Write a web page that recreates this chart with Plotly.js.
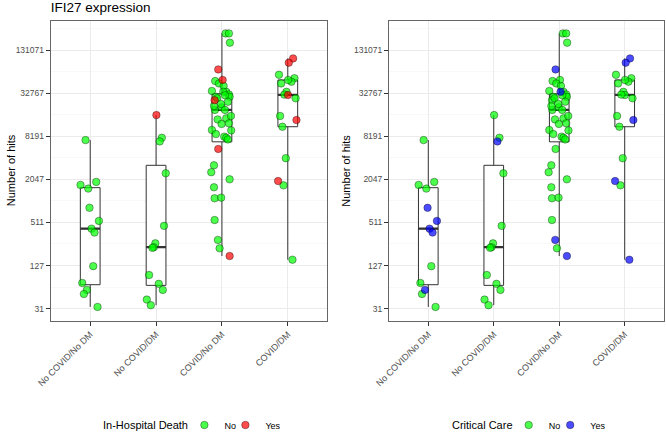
<!DOCTYPE html>
<html><head><meta charset="utf-8">
<script src="https://cdn.plot.ly/plotly-3.0.1.min.js"></script>
<style>html,body{margin:0;padding:0;background:#fff}#chart{width:666px;height:432px}</style>
</head><body><div id="chart"></div>
<script>
const categories = ["No COVID/No DM", "No COVID/DM", "COVID/No DM", "COVID/DM"];
const yTickVals = [5, 7, 9, 11, 13, 15, 17];
const yTickText = ["31", "127", "511", "2047", "8191", "32767", "131071"];
const yMinorVals = [4, 6, 8, 10, 12, 14, 16, 18];
const yTitle = "Number of hits";

// IFI27 expression, log2(hits + 1), per patient
const noCovidNoDM = [12.82, 10.74, 10.88, 10.57, 9.68, 9.07, 8.71, 8.53, 6.97, 6.19, 5.87, 5.68, 5.08];
const noCovidDM = [13.98, 12.93, 12.76, 11.28, 8.84, 8.03, 7.85, 7.82, 6.56, 6.15, 5.87, 5.42, 5.16];
const covidNoDM = [17.77, 17.77, 17.34, 16.10, 15.61, 15.56, 15.45, 15.33, 15.10, 15.06,
  14.83, 14.94, 14.67, 14.76, 14.83, 14.22, 14.34, 14.22, 13.78, 13.57,
  13.83, 13.94, 13.29, 13.27, 12.98, 12.93, 12.85, 12.41, 11.65, 11.33,
  11.00, 10.63, 10.12, 10.15, 9.11, 8.19, 7.80, 7.44,
  13.10, 13.60, 15.06, 14.50, 14.60, 14.40, 14.90];
const covidDM = [16.61, 16.41, 15.85, 15.69, 15.45, 15.53, 15.61, 15.06, 14.91, 14.93,
  14.76, 13.94, 13.75, 13.44, 11.98, 10.92, 10.72, 7.27];

// horizontal jitter of each point (category units)
const jitNoCovidNoDM = [-0.071, -0.147, 0.091, -0.030, -0.011, 0.132, 0.020, 0.065, 0.046, -0.121, -0.050, -0.096, 0.111];
const jitNoCovidDM = [0.005, 0.087, 0.056, 0.147, 0.121, -0.011, -0.035, -0.056, -0.106, 0.041, 0.102, -0.141, -0.080];
const jitCovidNoDM = [0.056, 0.106, 0.121, -0.056, 0.011, -0.102, -0.046, 0.026, -0.152, 0.065,
  -0.087, 0.106, -0.111, -0.071, 0.117, -0.106, -0.005, 0.046, -0.065, -0.005,
  0.065, 0.137, -0.152, 0.141, 0.035, 0.065, 0.091, -0.056, -0.121, -0.162,
  0.117, -0.121, -0.111, -0.011, -0.111, -0.061, -0.035, 0.117,
  -0.091, 0.106, 0.020, -0.015, 0.091, -0.121, 0.046];
const jitCovidDM = [0.081, 0.015, -0.134, 0.101, -0.101, 0.056, 0.005, -0.020, 0.003, -0.053,
  0.119, -0.117, 0.132, -0.081, -0.030, -0.147, -0.065, 0.071];

// In-Hospital Death (1 = Yes)
const deathNoCovidNoDM = [0,0,0,0,0,0,0,0,0,0,0,0,0];
const deathNoCovidDM = [1,0,0,0,0,0,0,0,0,0,0,0,0];
const deathCovidNoDM = [0,0,0,1,1,0,0,0,0,0, 0,0,1,0,0,0,0,0,0,0, 0,0,0,0,0,0,0,1,0,0, 0,0,0,0,0,0,0,1, 0,0,0,0,0,0,0];
const deathCovidDM = [1,1,0,0,0,0,0,0,1,0, 0,0,1,0,0,1,0,0];

// Critical Care (1 = Yes)
const critNoCovidNoDM = [0,0,0,0,1,1,1,1,0,0,1,0,0];
const critNoCovidDM = [0,0,1,0,0,0,0,0,0,0,0,0,0];
const critCovidNoDM = [0,0,0,1,0,0,0,0,0,0, 0,0,0,0,0,0,0,0,0,0, 0,0,0,0,0,0,0,0,0,0, 0,0,0,0,0,1,0,1, 0,0,1,0,0,0,0];
const critCovidDM = [1,1,0,0,0,0,0,0,0,0, 0,0,1,0,0,1,0,1];

const legendTitles = ["In-Hospital Death", "Critical Care"];
const legendLabels = ["No", "Yes"];

const groups = [noCovidNoDM, noCovidDM, covidNoDM, covidDM];
const jitters = [jitNoCovidNoDM, jitNoCovidDM, jitCovidNoDM, jitCovidDM];
const deaths = [deathNoCovidNoDM, deathNoCovidDM, deathCovidNoDM, deathCovidDM];
const crits = [critNoCovidNoDM, critNoCovidDM, critCovidNoDM, critCovidDM];

const FONT = "Liberation Sans, Arial, sans-serif";
const BOXW = 0.3;
const GREEN = "rgba(0,255,0,0.7)", RED = "rgba(255,0,0,0.7)", BLUE = "rgba(0,0,255,0.7)";

function quant(arr, p) {
  const s = [...arr].sort((a, b) => a - b);
  const h = (s.length - 1) * p, lo = Math.floor(h);
  const hi = Math.min(lo + 1, s.length - 1);
  return s[lo] + (h - lo) * (s[hi] - s[lo]);
}

const traces = [];
function panel(xa, ya, flags, legendIds, colYes) {
  const bx = [], by = [];
  groups.forEach((g, i) => g.forEach(v => { bx.push(i); by.push(v); }));
  traces.push({
    type: "box", x: bx, y: by, xaxis: xa, yaxis: ya, width: BOXW,
    boxpoints: false, quartilemethod: "linear", whiskerwidth: 0,
    fillcolor: "#ffffff", line: { color: "#333333", width: 1 },
    showlegend: false, hoverinfo: "skip"
  });
  groups.forEach((g, i) => {
    const m = quant(g, 0.5);
    traces.push({
      type: "scatter", mode: "lines", x: [i - BOXW / 2, i + BOXW / 2], y: [m, m],
      xaxis: xa, yaxis: ya, line: { color: "#333333", width: 2.2 },
      showlegend: false, hoverinfo: "skip"
    });
  });
  [0, 1].forEach(flag => {
    const px = [], py = [];
    groups.forEach((g, i) => g.forEach((v, k) => {
      if (flags[i][k] === flag) { px.push(i + jitters[i][k]); py.push(v); }
    }));
    traces.push({
      type: "scatter", mode: "markers", x: px, y: py, xaxis: xa, yaxis: ya,
      name: legendLabels[flag], legend: legendIds[flag],
      marker: { size: 7.5, color: flag ? colYes : GREEN, line: { color: "rgba(0,0,0,0.6)", width: 0.6 } },
      showlegend: true
    });
  });
}
panel("x", "y", deaths, ["legend", "legend2"], RED);
panel("x2", "y2", crits, ["legend3", "legend4"], BLUE);

const H = 432, W = 666;
function xAxis(d, anchor) {
  return {
    domain: d, anchor: anchor, range: [-0.6, 3.6], tickmode: "array",
    tickvals: [0, 1, 2, 3], ticktext: categories, tickangle: -45,
    showgrid: true, gridcolor: "#EBEBEB", gridwidth: 1, zeroline: false,
    showline: true, mirror: true, linecolor: "#666666", linewidth: 1,
    ticks: "outside", ticklen: 4, tickcolor: "#333333", tickwidth: 1,
    tickfont: { family: FONT, size: 9, color: "#4D4D4D" }, fixedrange: true
  };
}
function yAxis(anchor) {
  return {
    domain: [1 - 320.7 / H, 1 - 20.7 / H], anchor: anchor, range: [4.44, 18.36],
    tickmode: "array", tickvals: yTickVals, ticktext: yTickText,
    minor: { tickmode: "array", tickvals: yMinorVals, showgrid: true, gridcolor: "#F3F3F3", gridwidth: 0.6, ticks: "" },
    showgrid: true, gridcolor: "#EBEBEB", gridwidth: 1, zeroline: false,
    showline: true, mirror: true, linecolor: "#666666", linewidth: 1,
    ticks: "outside", ticklen: 4, tickcolor: "#333333", tickwidth: 1,
    tickfont: { family: FONT, size: 8.5, color: "#4D4D4D" },
    fixedrange: true
  };
}
function legend(symbolX) {
  return {
    orientation: "h", x: (symbolX - 21.3) / W, xanchor: "left", y: 1 - 425 / H, yanchor: "middle",
    font: { family: FONT, size: 9, color: "#000" }, itemwidth: 30, bgcolor: "rgba(0,0,0,0)",
    tracegroupgap: 0
  };
}
function ann(text, x, y, anchor, angle) {
  return { text: text, xref: "paper", yref: "paper", x: x / W, y: 1 - y / H, xanchor: anchor, yanchor: "middle",
    textangle: angle, showarrow: false, font: { family: FONT, size: 11, color: "#000" } };
}
const layout = {
  width: W, height: H, margin: { l: 0, r: 0, t: 0, b: 0, autoexpand: false },
  paper_bgcolor: "#fff", plot_bgcolor: "#fff",
  font: { family: FONT },
  title: { text: "IFI27 expression", x: 50.7 / W, xanchor: "left", y: 1 - 7 / H, yanchor: "middle",
    font: { family: FONT, size: 13.5, color: "#000" } },
  xaxis: xAxis([50.7 / W, 327.3 / W], "y"),
  yaxis: yAxis("x"),
  xaxis2: xAxis([389 / W, 664 / W], "y2"),
  yaxis2: yAxis("x2"),
  legend: legend(205.7),
  legend2: legend(246.7),
  legend3: legend(530),
  legend4: legend(571.5),
  annotations: [
    ann(legendTitles[0], 190, 425, "right", 0),
    ann(legendTitles[1], 515, 425, "right", 0),
    ann(yTitle, 10.5, 170.7, "center", -90),
    ann(yTitle, 346, 170.7, "center", -90)
  ],
  showlegend: true, hovermode: false
};
Plotly.newPlot("chart", traces, layout, { staticPlot: true, displayModeBar: false });
</script></body></html>
